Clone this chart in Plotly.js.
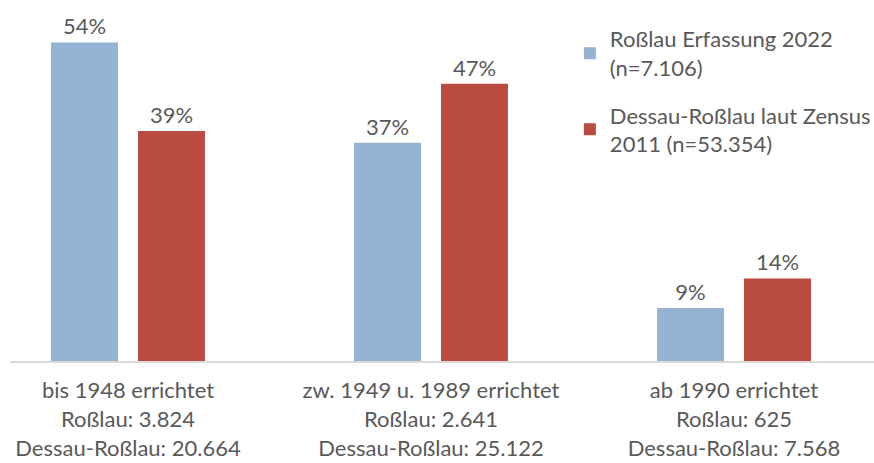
<!DOCTYPE html>
<html>
<head>
<meta charset="utf-8">
<script src="https://cdn.plot.ly/plotly-3.0.1.min.js"></script>
<style>html,body{margin:0;padding:0;background:#fff;}#chart{width:874px;height:463px;}</style>
</head>
<body>
<div id="chart"></div>
<script>
var categories = ["bis 1948 errichtet", "zw. 1949 u. 1989 errichtet", "ab 1990 errichtet"];
var countsRosslau = ["3.824", "2.641", "625"];
var countsDessau = ["20.664", "25.122", "7.568"];
var seriesNames = ["Roßlau Erfassung 2022<br>(n=7.106)", "Dessau-Roßlau laut Zensus<br>2011 (n=53.354)"];
var valuesRosslau = [54, 37, 9];
var valuesDessau = [39, 47, 14];

var tickText = categories.map(function (c, i) {
  return c + "<br>Roßlau: " + countsRosslau[i] + "<br>Dessau-Roßlau: " + countsDessau[i];
});

var FONT = "Lato, 'Liberation Sans', sans-serif";
var GRAY = "#595959";

var traces = [
  {
    type: "bar", name: seriesNames[0], x: categories, y: valuesRosslau,
    marker: {color: "#94B3D3"},
    text: valuesRosslau.map(function (v) { return v + "%"; }),
    textposition: "outside", cliponaxis: false,
    textfont: {family: FONT, size: 22, color: GRAY},
    legendgroup: "a", hoverinfo: "skip"
  },
  {
    type: "bar", name: seriesNames[1], x: categories, y: valuesDessau,
    marker: {color: "#B94B41"},
    text: valuesDessau.map(function (v) { return v + "%"; }),
    textposition: "outside", cliponaxis: false,
    textfont: {family: FONT, size: 22, color: GRAY},
    legendgroup: "b", hoverinfo: "skip"
  }
];

var layout = {
  width: 874, height: 463,
  margin: {l: 10, r: 0, t: 0, b: 102, autoexpand: false},
  paper_bgcolor: "#fff", plot_bgcolor: "#fff",
  font: {family: FONT, size: 22, color: GRAY},
  barmode: "group", bargap: 0.426, bargroupgap: 0.23,
  showlegend: true,
  legend: {
    x: 0.648, xanchor: "left", y: 0.95, yanchor: "top",
    font: {family: FONT, size: 22, color: GRAY},
    traceorder: "grouped", tracegroupgap: 16,
    itemwidth: 30, bgcolor: "rgba(0,0,0,0)"
  },
  xaxis: {
    type: "category", range: [-0.3894, 2.462],
    tickmode: "array", tickvals: categories, ticktext: tickText,
    showline: true, linecolor: "#d9d9d9", linewidth: 2,
    ticks: "", showgrid: false, zeroline: false, automargin: false,
    ticklabelstandoff: 9,
    tickfont: {family: FONT, size: 22, color: GRAY},
    fixedrange: true
  },
  yaxis: {
    range: [0, 61.2], visible: false, showgrid: false, zeroline: false, fixedrange: true
  }
};

Plotly.newPlot("chart", traces, layout, {displayModeBar: false, staticPlot: true});
</script>
</body>
</html>
